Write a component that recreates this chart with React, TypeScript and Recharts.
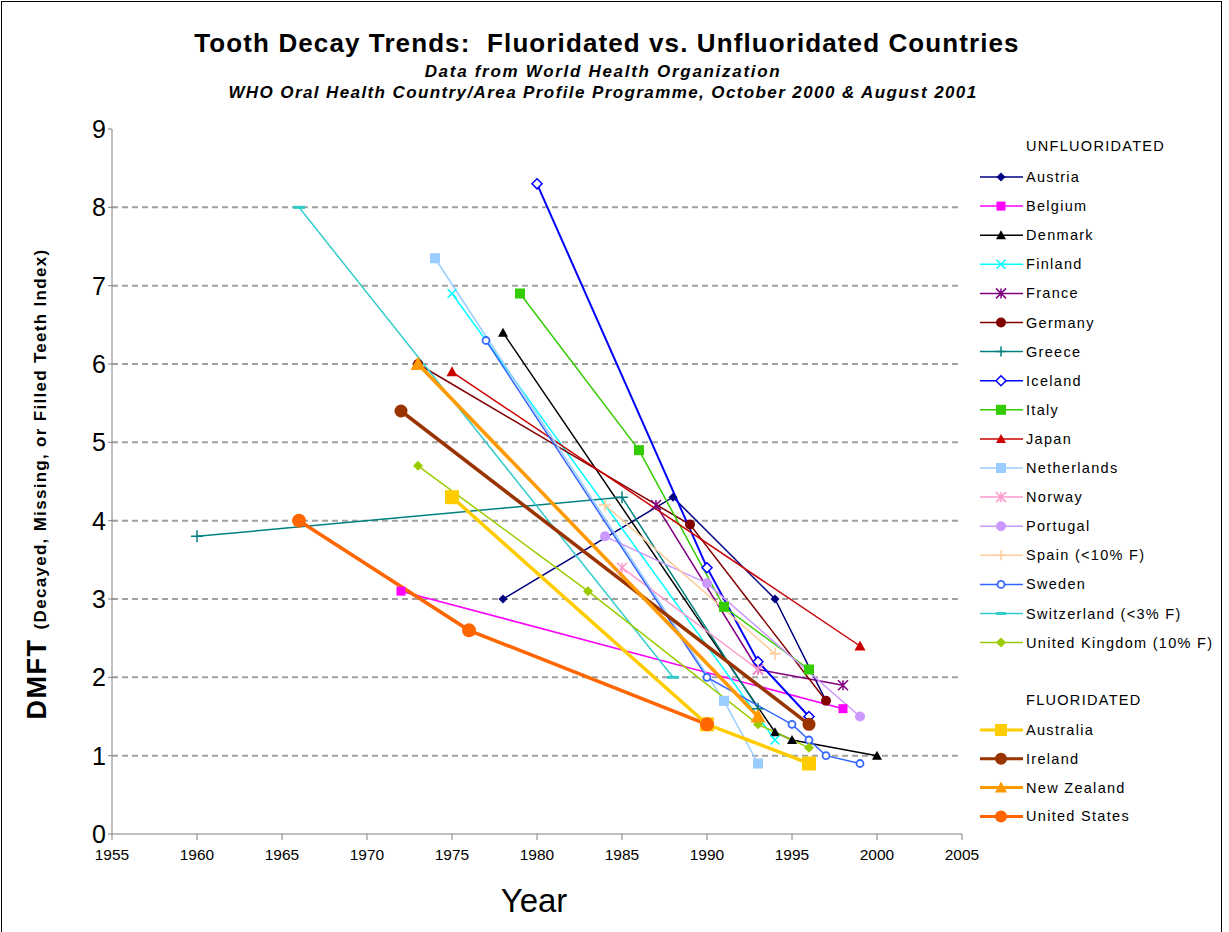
import React from 'react';
import { LineChart, Line, XAxis, YAxis, CartesianGrid } from 'recharts';

// DMFT readings per country (year, index value)
const AUSTRIA = [{ year: 1978, dmft: 3.0 }, { year: 1988, dmft: 4.3 }, { year: 1994, dmft: 3.0 }, { year: 1997, dmft: 1.7 }];
const BELGIUM = [{ year: 1972, dmft: 3.1 }, { year: 1998, dmft: 1.6 }];
const DENMARK = [{ year: 1978, dmft: 6.4 }, { year: 1994, dmft: 1.3 }, { year: 1995, dmft: 1.2 }, { year: 2000, dmft: 1.0 }];
const FINLAND = [{ year: 1975, dmft: 6.9 }, { year: 1994, dmft: 1.2 }];
const FRANCE = [{ year: 1987, dmft: 4.2 }, { year: 1993, dmft: 2.1 }, { year: 1998, dmft: 1.9 }];
const GERMANY = [{ year: 1973, dmft: 6.0 }, { year: 1989, dmft: 3.95 }, { year: 1997, dmft: 1.7 }];
const GREECE = [{ year: 1960, dmft: 3.8 }, { year: 1985, dmft: 4.3 }, { year: 1993, dmft: 1.6 }];
const ICELAND = [{ year: 1980, dmft: 8.3 }, { year: 1990, dmft: 3.4 }, { year: 1993, dmft: 2.2 }, { year: 1996, dmft: 1.5 }];
const ITALY = [{ year: 1979, dmft: 6.9 }, { year: 1986, dmft: 4.9 }, { year: 1991, dmft: 2.9 }, { year: 1996, dmft: 2.1 }];
const JAPAN = [{ year: 1975, dmft: 5.9 }, { year: 1999, dmft: 2.4 }];
const NETHERLANDS = [{ year: 1974, dmft: 7.35 }, { year: 1991, dmft: 1.7 }, { year: 1993, dmft: 0.9 }];
const NORWAY = [{ year: 1985, dmft: 3.4 }, { year: 1993, dmft: 2.1 }];
const PORTUGAL = [{ year: 1984, dmft: 3.8 }, { year: 1990, dmft: 3.2 }, { year: 1999, dmft: 1.5 }];
const SPAIN = [{ year: 1984, dmft: 4.2 }, { year: 1994, dmft: 2.3 }];
const SWEDEN = [{ year: 1977, dmft: 6.3 }, { year: 1990, dmft: 2.0 }, { year: 1995, dmft: 1.4 }, { year: 1996, dmft: 1.2 }, { year: 1997, dmft: 1.0 }, { year: 1999, dmft: 0.9 }];
const SWITZERLAND = [{ year: 1966, dmft: 8.0 }, { year: 1988, dmft: 2.0 }];
const UNITED_KINGDOM = [{ year: 1973, dmft: 4.7 }, { year: 1983, dmft: 3.1 }, { year: 1993, dmft: 1.4 }, { year: 1996, dmft: 1.1 }];

const AUSTRALIA = [{ year: 1975, dmft: 4.3 }, { year: 1990, dmft: 1.4 }, { year: 1996, dmft: 0.9 }];
const IRELAND = [{ year: 1972, dmft: 5.4 }, { year: 1996, dmft: 1.4 }];
const NEW_ZEALAND = [{ year: 1973, dmft: 6.0 }, { year: 1993, dmft: 1.5 }];
const UNITED_STATES = [{ year: 1966, dmft: 4.0 }, { year: 1976, dmft: 2.6 }, { year: 1990, dmft: 1.4 }];

const X_TICKS = [1955, 1960, 1965, 1970, 1975, 1980, 1985, 1990, 1995, 2000, 2005];
const Y_TICKS = [0, 1, 2, 3, 4, 5, 6, 7, 8, 9];
const GRID_VALUES = [1, 2, 3, 4, 5, 6, 7, 8];

type Shape = 'diamond' | 'openDiamond' | 'square' | 'triangle' | 'x' | 'star' | 'circle' | 'openCircle' | 'plus' | 'dash';

interface Series {
  name: string;
  data: { year: number; dmft: number }[];
  color: string;
  shape: Shape;
  width: number;
  size: number;
}

const UNFLUORIDATED: Series[] = [
  { name: 'Austria', data: AUSTRIA, color: '#000080', shape: 'diamond', width: 1.5, size: 9 },
  { name: 'Belgium', data: BELGIUM, color: '#ff00ff', shape: 'square', width: 1.5, size: 9 },
  { name: 'Denmark', data: DENMARK, color: '#000000', shape: 'triangle', width: 1.5, size: 10 },
  { name: 'Finland', data: FINLAND, color: '#00ffff', shape: 'x', width: 1.5, size: 9 },
  { name: 'France', data: FRANCE, color: '#800080', shape: 'star', width: 1.5, size: 10 },
  { name: 'Germany', data: GERMANY, color: '#800000', shape: 'circle', width: 1.5, size: 10 },
  { name: 'Greece', data: GREECE, color: '#008080', shape: 'plus', width: 1.5, size: 12 },
  { name: 'Iceland', data: ICELAND, color: '#0000ff', shape: 'openDiamond', width: 2, size: 10 },
  { name: 'Italy', data: ITALY, color: '#33cc00', shape: 'square', width: 1.5, size: 10 },
  { name: 'Japan', data: JAPAN, color: '#cc0000', shape: 'triangle', width: 1.5, size: 11 },
  { name: 'Netherlands', data: NETHERLANDS, color: '#99ccff', shape: 'square', width: 1.5, size: 10 },
  { name: 'Norway', data: NORWAY, color: '#ff99cc', shape: 'star', width: 1.5, size: 10 },
  { name: 'Portugal', data: PORTUGAL, color: '#cc99ff', shape: 'circle', width: 1.5, size: 10 },
  { name: 'Spain (<10% F)', data: SPAIN, color: '#ffcc99', shape: 'plus', width: 1.5, size: 12 },
  { name: 'Sweden', data: SWEDEN, color: '#3366ff', shape: 'openCircle', width: 1.5, size: 9 },
  { name: 'Switzerland (<3% F)', data: SWITZERLAND, color: '#33cccc', shape: 'dash', width: 1.5, size: 12 },
  { name: 'United Kingdom (10% F)', data: UNITED_KINGDOM, color: '#99cc00', shape: 'diamond', width: 1.5, size: 10 },
];

const FLUORIDATED: Series[] = [
  { name: 'Australia', data: AUSTRALIA, color: '#ffcc00', shape: 'square', width: 3.5, size: 14 },
  { name: 'Ireland', data: IRELAND, color: '#993300', shape: 'circle', width: 3.5, size: 13 },
  { name: 'New Zealand', data: NEW_ZEALAND, color: '#ff9900', shape: 'triangle', width: 3.5, size: 15 },
  { name: 'United States', data: UNITED_STATES, color: '#ff6600', shape: 'circle', width: 3.5, size: 14 },
];

const Marker = ({ cx, cy, shape, color, size }: { cx: number; cy: number; shape: Shape; color: string; size: number }) => {
  const s = size / 2;
  switch (shape) {
    case 'diamond':
      return <polygon points={`${cx},${cy - s} ${cx + s},${cy} ${cx},${cy + s} ${cx - s},${cy}`} fill={color} />;
    case 'openDiamond':
      return <polygon points={`${cx},${cy - s} ${cx + s},${cy} ${cx},${cy + s} ${cx - s},${cy}`} fill="#fff" stroke={color} strokeWidth={1.5} />;
    case 'square':
      return <rect x={cx - s} y={cy - s} width={size} height={size} fill={color} />;
    case 'triangle':
      return <polygon points={`${cx},${cy - s} ${cx + s},${cy + s * 0.8} ${cx - s},${cy + s * 0.8}`} fill={color} />;
    case 'x':
      return <path d={`M${cx - s},${cy - s}L${cx + s},${cy + s}M${cx + s},${cy - s}L${cx - s},${cy + s}`} stroke={color} strokeWidth={1.5} />;
    case 'star':
      return <path d={`M${cx - s},${cy - s}L${cx + s},${cy + s}M${cx + s},${cy - s}L${cx - s},${cy + s}M${cx},${cy - s}L${cx},${cy + s}`} stroke={color} strokeWidth={1.5} />;
    case 'circle':
      return <circle cx={cx} cy={cy} r={s} fill={color} />;
    case 'openCircle':
      return <circle cx={cx} cy={cy} r={s - 1} fill="#fff" stroke={color} strokeWidth={1.8} />;
    case 'plus':
      return <path d={`M${cx - s},${cy}L${cx + s},${cy}M${cx},${cy - s}L${cx},${cy + s}`} stroke={color} strokeWidth={1.5} />;
    case 'dash':
      return <path d={`M${cx - s},${cy}L${cx + s},${cy}`} stroke={color} strokeWidth={3} />;
  }
  return null;
};

const font = 'Arial, "Liberation Sans", sans-serif';

const LegendRow = ({ s, y }: { s: Series; y: number }) => (
  <g>
    <line x1={980} x2={1023} y1={y} y2={y} stroke={s.color} strokeWidth={s.width > 2 ? 3 : 1.5} />
    <Marker cx={1001} cy={y} shape={s.shape} color={s.color} size={s.width > 2 ? 12 : Math.min(s.size, 10)} />
    <text x={1026} y={y + 5} fontSize={14.5} letterSpacing={1.3} fill="#000" fontFamily={font}>{s.name}</text>
  </g>
);

export default function App() {
  const all = [...UNFLUORIDATED, ...FLUORIDATED];
  return (
    <div style={{ position: 'absolute', left: 0, top: 0, width: 1229, height: 932, background: '#fff', overflow: 'hidden' }}>
      <LineChart width={1229} height={932} margin={{ top: 129, right: 267, bottom: 68, left: 52 }}>
        <CartesianGrid vertical={false} horizontalValues={GRID_VALUES} stroke="#a0a0a0" strokeWidth={2} strokeDasharray="6 4" />
        <XAxis
          type="number"
          dataKey="year"
          domain={[1955, 2005]}
          ticks={X_TICKS}
          allowDuplicatedCategory={false}
          height={30}
          stroke="#808080"
          tickSize={6}
          tickMargin={9}
          tick={{ fill: '#000', fontSize: 15.5, fontFamily: font }}
        />
        <YAxis
          type="number"
          domain={[0, 9]}
          ticks={Y_TICKS}
          width={60}
          stroke="#808080"
          tickSize={4}
          tickMargin={2}
          tick={{ fill: '#000', fontSize: 25, fontFamily: font }}
        />
        {all.map((s) => (
          <Line
            key={s.name}
            data={s.data}
            dataKey="dmft"
            name={s.name}
            type="linear"
            stroke={s.color}
            strokeWidth={s.width}
            isAnimationActive={false}
            activeDot={false}
            dot={(p: any) => <Marker key={`${s.name}-${p.index}`} cx={p.cx} cy={p.cy} shape={s.shape} color={s.color} size={s.size} />}
          />
        ))}
      </LineChart>
      <svg width={1229} height={932} style={{ position: 'absolute', left: 0, top: 0, pointerEvents: 'none' }}>
        <rect x={1.5} y={1.5} width={1220} height={940} fill="none" stroke="#000" strokeWidth={1} />
        <text x={607} y={52} textAnchor="middle" fontSize={26} letterSpacing={1.1} fontWeight="bold" fontFamily={font}>
          {'Tooth Decay Trends:\u00a0 Fluoridated vs. Unfluoridated Countries'}
        </text>
        <text x={603} y={77} textAnchor="middle" fontSize={17} letterSpacing={1.7} fontWeight="bold" fontStyle="italic" fontFamily={font}>
          Data from World Health Organization
        </text>
        <text x={603} y={98} textAnchor="middle" fontSize={17} letterSpacing={1.4} fontWeight="bold" fontStyle="italic" fontFamily={font}>
          WHO Oral Health Country/Area Profile Programme, October 2000 &amp; August 2001
        </text>
        <text transform="translate(46,484) rotate(-90)" textAnchor="middle" fontWeight="bold" fontFamily={font}>
          <tspan fontSize={27} letterSpacing={1.5}>DMFT </tspan>
          <tspan fontSize={17} letterSpacing={1.3}>(Decayed, Missing, or Filled Teeth Index)</tspan>
        </text>
        <text x={534} y={912} textAnchor="middle" fontSize={33} fontFamily={font}>Year</text>
        <text x={1026} y={151} fontSize={14.5} letterSpacing={1.3} fontFamily={font}>UNFLUORIDATED</text>
        {UNFLUORIDATED.map((s, i) => (
          <LegendRow key={s.name} s={s} y={177 + i * 29.1} />
        ))}
        <text x={1026} y={705} fontSize={14.5} letterSpacing={1.3} fontFamily={font}>FLUORIDATED</text>
        {FLUORIDATED.map((s, i) => (
          <LegendRow key={s.name} s={s} y={730 + i * 28.8} />
        ))}
      </svg>
    </div>
  );
}
